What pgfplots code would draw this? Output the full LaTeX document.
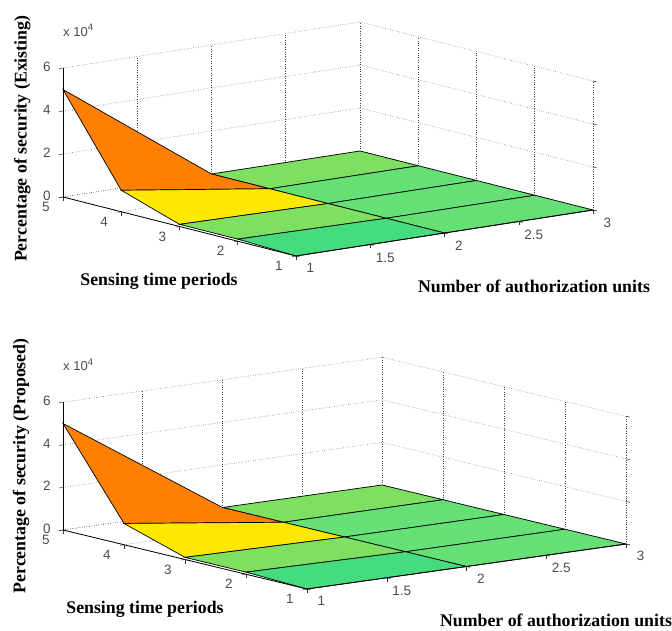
\documentclass[border=0pt]{standalone}
\usepackage{fontspec}
\setmainfont{Liberation Sans}
\newfontfamily\lblfont{Liberation Serif}
\usepackage{pgfplots}
\pgfplotsset{compat=1.18}
\usepackage{pgfplotstable}
\pgfplotstableread{
x y z c
1 5 5.0 4
2 5 0.0 2
3 5 0.0 2
1 4 1.0 3
2 4 0.0 1
3 4 0.0 1
1 3 0.1 2
2 3 0.0 1
3 3 0.0 1
1 2 0.1 0
2 2 0.0 1
3 2 0.0 1
1 1 0.0 0
2 1 0.0 1
3 1 0.0 1
}\existing
\pgfplotstableread{
x y z c
1 5 5.0 4
2 5 0.0 2
3 5 0.0 2
1 4 1.0 3
2 4 0.0 1
3 4 0.0 1
1 3 0.1 2
2 3 0.0 1
3 3 0.0 1
1 2 0.1 0
2 2 0.0 1
3 2 0.0 1
1 1 0.0 0
2 1 0.0 1
3 1 0.0 1
}\proposed
\definecolor{ct}{HTML}{45DC80}
\definecolor{cg}{HTML}{65E075}
\definecolor{cl}{HTML}{7DE060}
\definecolor{cy}{HTML}{FFE800}
\definecolor{co}{HTML}{FF7F00}
\pgfplotsset{secax/.style={
  anchor=origin,
  xmin=1,xmax=3,ymin=1,ymax=5,zmin=0,zmax=6,
  xtick={1,1.5,2,2.5,3},
  xticklabels={1,1.5,2,2.5,3},
  ytick={1,2,3,4,5},
  ztick={0,2,4,6},
  xtick pos=lower,ytick pos=lower,ztick pos=left,
  grid=major,
  major grid style={black!75,dotted,line width=0.6pt},
  axis line style={draw=none},
  tick style={black!80,line width=0.5pt},
  tick align=outside,
  major tick length=4pt,
  tick label style={font=\fontsize{13.5}{14}\selectfont,text=black!70,/pgf/number format/assume math mode=true},
  xticklabel style={xshift=4pt,yshift=-3pt},
  yticklabel style={xshift=-6pt,yshift=-1pt},
  zticklabel style={xshift=-5pt},
  label style={font=\lblfont\bfseries\fontsize{17.8}{19}\selectfont,anchor=center},
  ylabel style={yshift=-2pt},
  colormap={sec}{color(0)=(ct) color(1)=(cg) color(2)=(cl) color(3)=(cy) color(4)=(co)},
  point meta min=0,point meta max=4,
  clip=false,
}}
\pgfplotsset{secsurf/.style={surf,shader=flat corner,draw=black,line width=0.7pt,mesh/rows=5,mesh/cols=3,point meta=explicit}}
\begin{document}
\begin{tikzpicture}[x=1pt,y=1pt]
\useasboundingbox (0,0) rectangle (672,630);
\begin{axis}[secax,at={(296pt,374pt)},
  x={(148.5pt,23pt)},y={(-58.25pt,14.75pt)},z={(0pt,21.5pt)},
  xlabel={Number of authorization units},
  ylabel={Sensing time periods},
  zlabel={Percentage of security (Existing)},
  xlabel style={at={(axis cs:1.4994,-1.8126,0)}},
  ylabel style={at={(axis cs:0.0481,0.9251,0)}},
  zlabel style={at={(axis cs:1,5.70,2.23)}},
]
\addplot3[secsurf] table[x=x,y=y,z=z,meta=c] {\existing};
\addplot3[black,line width=0.8pt] coordinates {(1,5,0) (1,5,6)};
\addplot3[black,line width=0.8pt] coordinates {(1,1,0) (3,1,0)};
\addplot3[black,line width=0.8pt] coordinates {(1,1,0) (1,5,0)};
\end{axis}
\node[font=\fontsize{13}{14}\selectfont,text=black!70,anchor=base west,inner sep=0pt] at (63pt,593pt) {x 10\raisebox{6pt}{\fontsize{9.5}{10}\selectfont 4}};
\begin{axis}[secax,at={(307pt,41pt)},
  x={(159.5pt,22.5pt)},y={(-61pt,14.75pt)},z={(0pt,21.3pt)},
  xlabel={Number of authorization units},
  ylabel={Sensing time periods},
  zlabel={Percentage of security (Proposed)},
  xlabel style={at={(axis cs:1.4783,-1.8313,0)}},
  ylabel style={at={(axis cs:0.0638,1.2078,0)}},
  zlabel style={at={(axis cs:1,5.6885,2.535)}},
]
\addplot3[secsurf] table[x=x,y=y,z=z,meta=c] {\proposed};
\addplot3[black,line width=0.8pt] coordinates {(1,5,0) (1,5,6)};
\addplot3[black,line width=0.8pt] coordinates {(1,1,0) (3,1,0)};
\addplot3[black,line width=0.8pt] coordinates {(1,1,0) (1,5,0)};
\end{axis}
\node[font=\fontsize{13}{14}\selectfont,text=black!70,anchor=base west,inner sep=0pt] at (63pt,259pt) {x 10\raisebox{6pt}{\fontsize{9.5}{10}\selectfont 4}};
\end{tikzpicture}
\end{document}
